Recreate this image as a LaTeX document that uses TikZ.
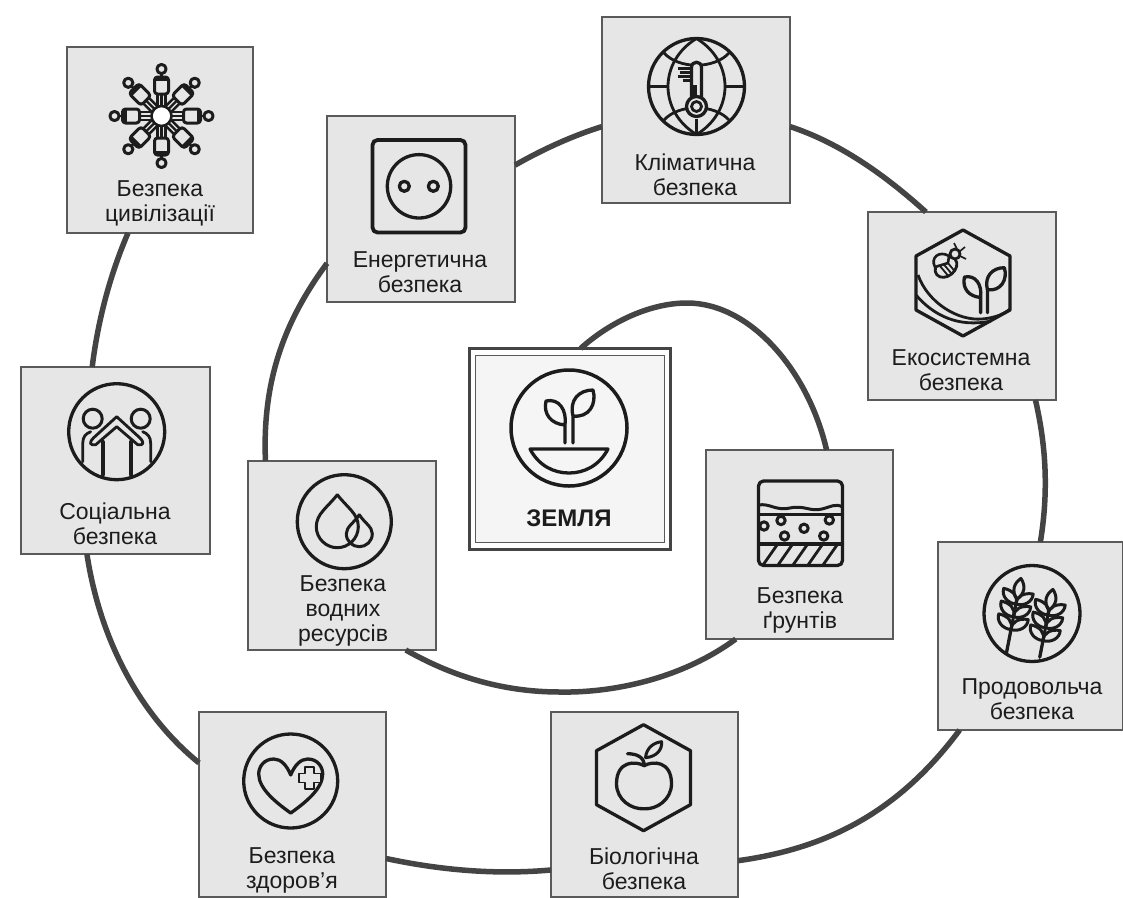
\documentclass[tikz,border=0pt]{standalone}
\usepackage{fontspec}
\setmainfont{Liberation Sans}
\definecolor{boxfill}{HTML}{E6E6E6}
\definecolor{boxline}{HTML}{5A5A5A}
\definecolor{ink}{HTML}{1C1C1C}
\definecolor{linkc}{HTML}{444444}
\tikzset{
  card/.style={draw=boxline,line width=1.6pt,fill=boxfill,inner sep=0pt,outer sep=0pt,minimum width=#1,minimum height=188pt},
  card/.default=188pt,
  lab/.style={align=center,text=ink,inner sep=0pt,font=\fontsize{23}{25}\selectfont},
  ic/.style={draw=ink,line width=3.3pt,line join=round,line cap=round},
  thin ic/.style={draw=ink,line width=2.4pt,line join=round},
  link/.style={draw=linkc,line width=5.5pt},
}
\newcommand{\sproutpic}{%
  \draw[ic] (-4,15) -- (-4,-3) .. controls (-18,-4) and (-26,-14) .. (-23,-27) .. controls (-10,-30) and (-2,-18) .. (-4,-3);
  \draw[ic] (4,15) -- (4,-12) .. controls (0,-28) and (10,-38) .. (24,-38) .. controls (28,-24) and (20,-10) .. (4,-12);
}
\newcommand{\hexpic}{\draw[ic] (0,-53) -- (47,-27) -- (47,27) -- (0,53) -- (-47,27) -- (-47,-27) -- cycle;}
\newcommand{\grain}{\draw[thin ic,line width=3pt] (0,0) .. controls (-1,-8) and (6,-13) .. (15,-13) .. controls (16,-5) and (8,1) .. (0,0);}
\newcommand{\wheatpic}[1]{%
  \draw[ic] (0,0) -- (0,#1);
  \foreach \g in {0,-13,-26}{
    \begin{scope}[shift={(0,\g)}]\grain\begin{scope}[xscale=-1]\grain\end{scope}\end{scope}
  }
  \draw[thin ic,line width=3pt] (0,-31) .. controls (-7,-38) and (-6,-46) .. (0,-52) .. controls (6,-46) and (7,-38) .. (0,-31);
}
\begin{document}
\begin{tikzpicture}[x=1pt,y=-1pt]
\useasboundingbox (0,0) rectangle (1123,897);
\fill[white] (0,0) rectangle (1123,897);
% cards
\node[card=186pt,minimum height=186pt] (civ) at (160,140) {};
\node[card=188pt,minimum height=186pt] (clim) at (696,110) {};
\node[card=188pt] (eco) at (962,306) {};
\node[card=185pt] (prod) at (1030.5,636) {};
\node[card=189pt,minimum height=187pt] (soc) at (115.5,460.5) {};
\node[card=187pt,minimum height=189pt] (ground) at (799.5,544.5) {};
\node[card=188pt,minimum height=189pt] (water) at (342,555.5) {};
\node[card=187pt,minimum height=185pt] (health) at (292.5,804.5) {};
\node[card=187pt,minimum height=185pt] (bio) at (644.5,804.5) {};
\node[card=188pt,minimum height=186pt] (energy) at (421,209) {};
\node[draw=linkc,line width=3pt,fill=white,inner sep=0pt,outer sep=0pt,minimum width=201pt,minimum height=201pt] (earth) at (570,449) {};
\node[draw=boxline,line width=1.6pt,fill=black!4,inner sep=0pt,minimum width=189pt,minimum height=187pt] (earthin) at (570,449) {};
% connectors
\draw[link] (earth.84.3) .. controls (610,322) and (650,303) .. (687,303) .. controls (750,303) and (808,370) .. (ground.74.9);
\draw[link] (ground.-124.3) .. controls (680,680) and (610,693) .. (560,692) .. controls (500,692) and (450,675) .. (water.-56.3);
\draw[link] (water.129.2) .. controls (262,380) and (285,320) .. (energy.210.8);
\draw[link] (energy.25.1) .. controls (545,148) and (575,135) .. (clim.190.3);
\draw[link] (clim.-10.3) .. controls (840,143) and (885,175) .. (eco.111.5);
\draw[link] (eco.-52.2) .. controls (1047,450) and (1048,495) .. (prod.84.2);
\draw[link] (prod.233.9) .. controls (900,810) and (830,848) .. (bio.-31.6);
\draw[link] (bio.215.8) .. controls (495,875) and (440,870) .. (health.-30.7);
\draw[link] (health.156.6) .. controls (140,715) and (100,640) .. (soc.253.6);
\draw[link] (soc.104.1) .. controls (98,320) and (110,275) .. (civ.251);
% labels
\node[lab] (lciv) at (160,203) {Безпека\\цивілізації};
\node[lab] (lclim) at (695,175) {Кліматична\\безпека};
\node[lab] (leco) at (961,370) {Екосистемна\\безпека};
\node[lab] (lprod) at (1032,699) {Продовольча\\безпека};
\node[lab] (lsoc) at (115,524) {Соціальна\\безпека};
\node[lab] (lground) at (800,610) {Безпека\\ґрунтів};
\node[lab] (lwater) at (343,611) {Безпека\\водних\\ресурсів};
\node[lab] (lhealth) at (292,870) {Безпека\\здоров’я};
\node[lab] (lbio) at (644,869) {Біологічна\\безпека};
\node[lab] (lenergy) at (420,272) {Енергетична\\безпека};
\node[text=ink,inner sep=0pt,font=\fontsize{24}{25}\selectfont\bfseries] (learth) at (569,518) {ЗЕМЛЯ};
% earth icon
\begin{scope}[shift={(569,428)}]
  \draw[ic,line width=3.5pt] (0,0) circle[radius=58];
  \sproutpic
  \draw[ic] (-39,21) -- (39,21) .. controls (30,38) and (15,45) .. (0,45) .. controls (-15,45) and (-30,38) .. (-39,21) -- cycle;
\end{scope}
% civilisation icon
\begin{scope}[shift={(161.5,116)}]
  \foreach \a in {0,45,...,315}{
    \begin{scope}[rotate=\a]
      \draw[thin ic] (-4,-9) -- (-4,-26) (0,-10) -- (0,-26) (4,-9) -- (4,-26);
      \draw[ic,line width=3pt,fill=boxfill,rounded corners=3pt] (-7,-22) rectangle (7,-39);
      \fill[ink] (-7,-35) rectangle (7,-39);
      \draw[thin ic] (0,-39) -- (0,-42);
      \draw[ic,line width=3pt,fill=boxfill] (0,-47) circle[radius=4.6];
    \end{scope}
  }
  \draw[ic,line width=2.6pt,fill=white] (0,0) circle[radius=10];
\end{scope}
% climate icon
\begin{scope}[shift={(696.5,86.5)}]
  \draw[ic] (0,0) circle[radius=48];
  \draw[thin ic,line width=2.8pt] (0,-48) .. controls (-38,-25) and (-38,25) .. (0,48) .. controls (38,25) and (38,-25) .. (0,-48);
  \draw[thin ic,line width=2.8pt] (-33,-34) .. controls (-18,-17) and (18,-17) .. (33,-34);
  \draw[thin ic,line width=2.8pt] (-33,34) .. controls (-18,17) and (18,17) .. (33,34);
  \draw[thin ic,line width=2.8pt] (-48,0) -- (-29,0) (29,0) -- (48,0) (0,32) -- (0,48);
  \draw[ic,fill=boxfill] (-5,12) -- (-5,-19) .. controls (-5,-26) and (5,-26) .. (5,-19) -- (5,12);
  \fill[ink] (-5,-2) rectangle (0,14);
  \draw[ic,fill=boxfill] (0,20) circle[radius=10];
  \draw[thin ic,line width=2.8pt] (0,20) circle[radius=5];
  \draw[ink,line width=2.8pt] (-19,-18) -- (-5,-18) (-17,-14) -- (-5,-14) (-19,-10) -- (-5,-10) (-14,-6) -- (-5,-6);
\end{scope}
% ecosystem icon
\begin{scope}[shift={(963,283)}]
  \hexpic
  \draw[thin ic,line width=2.8pt] (-45,-8) .. controls (-35,20) and (-5,38) .. (19,36) .. controls (30,35) and (40,32) .. (47,26);
  \draw[thin ic,line width=2.8pt] (-47,12) .. controls (-30,32) and (-5,45) .. (28,38);
  \begin{scope}[shift={(21,17)},scale=.85]\sproutpic\end{scope}
  % bee
  \begin{scope}[shift={(-17,-16)},rotate=40]
    \draw[thin ic,line width=2.8pt] (0,0) ellipse[x radius=12,y radius=9];
    \draw[thin ic,line width=1.8pt] (-4,-8) -- (-4,8) (0,-9) -- (0,9) (4,-8) -- (4,8);
  \end{scope}
  \draw[thin ic,line width=2.8pt,fill=boxfill] (-8,-29) circle[radius=5];
  \draw[thin ic,line width=2.6pt,fill=boxfill] (-28,-16) .. controls (-33,-25) and (-24,-33) .. (-14,-27) -- (-15,-20) -- cycle;
  \draw[thin ic,line width=1.6pt] (-6,-34) -- (-9,-40) (-4,-31) -- (2,-36) (-3,-27) -- (3,-24);
\end{scope}
% food icon
\begin{scope}[shift={(1032,613.5)}]
  \draw[ic] (0,0) circle[radius=48];
  \begin{scope}[shift={(-21,16)},rotate=-11]
    \wheatpic{24}
    \draw[ink,line width=3pt] (0,0) -- (0,-30);
  \end{scope}
  \begin{scope}[shift={(11,27)},rotate=-11]
    \wheatpic{17}
    \draw[ink,line width=3pt] (0,0) -- (0,-30);
  \end{scope}
\end{scope}
% social icon
\begin{scope}[shift={(116.7,431.7)}]
  \draw[ic] (0,0) circle[radius=48];
  \draw[ic,line width=3pt] (-24,-13) circle[radius=9.5] (24,-13) circle[radius=9.5];
  \draw[ic,line width=3.6pt] (-14,10) -- (-14,43) (14,10) -- (14,43);
  \draw[ic,line width=2.8pt] (-34,30) -- (-34,12) .. controls (-34,5) and (-31,2) .. (-26,0);
  \draw[ic,line width=2.8pt] (34,30) -- (34,12) .. controls (34,5) and (31,2) .. (26,0);
  \draw[ic,line width=2.8pt,fill=boxfill] (-23,6) -- (0,-15) -- (23,6) .. controls (28,11) and (27,14) .. (21,13) -- (0,-5) -- (-21,13) .. controls (-27,14) and (-28,11) .. (-23,6) -- cycle;
\end{scope}
% soil icon
\begin{scope}
  \draw[ic,rounded corners=5pt] (758.5,481) rectangle (842.5,565.5);
  \draw[ic,line width=3pt] (758.5,505) .. controls (770,503) and (775,511) .. (790,508) .. controls (805,505) and (810,512) .. (822,509) .. controls (830,507) and (836,503) .. (842.5,507);
  \draw[ic] (758.5,514.5) -- (842.5,514.5) (758.5,544) -- (842.5,544);
  \draw[ic,line width=3pt] (764,526) circle[radius=4.2] (781,520.5) circle[radius=4.2] (784.5,536) circle[radius=4.2] (804,528.3) circle[radius=4.2] (829.3,520) circle[radius=4.2] (823.7,536) circle[radius=4.2];
  \draw[ic,line width=2.8pt] (763,565) -- (777,545) (778,565) -- (792,545) (793,565) -- (807,545) (808,565) -- (822,545) (823,565) -- (837,545);
\end{scope}
% water icon
\begin{scope}[shift={(344.3,521.7)}]
  \draw[ic] (0,0) circle[radius=47];
  \draw[ic,line width=3pt] (-7,-27) .. controls (3,-14) and (14,-8) .. (14,5) .. controls (14,17) and (4,26) .. (-7,26) .. controls (-18,26) and (-28,17) .. (-28,5) .. controls (-28,-8) and (-17,-14) .. (-7,-27);
  \draw[ic,line width=3pt] (15,-7) .. controls (20,1) and (28,5) .. (28,12) .. controls (28,19.5) and (22,25) .. (15,25) .. controls (8,25) and (2,19.5) .. (2,12) .. controls (2,5) and (10,1) .. (15,-7);
\end{scope}
% health icon
\begin{scope}[shift={(290.7,781)}]
  \draw[ic] (0,0) circle[radius=47];
  \draw[ic] (0,-6) .. controls (-4,-16) and (-10,-22) .. (-17,-22) .. controls (-27,-22) and (-32,-14) .. (-32,-7) .. controls (-32,8) and (-14,22) .. (0,32) .. controls (14,22) and (32,8) .. (32,-7) .. controls (32,-14) and (27,-22) .. (17,-22) .. controls (10,-22) and (4,-16) .. (0,-6);
  \draw[thin ic,line width=1.8pt,fill=boxfill] (14.5,-14) -- (23.5,-14) -- (23.5,-7.5) -- (30,-7.5) -- (30,1.5) -- (23.5,1.5) -- (23.5,8) -- (14.5,8) -- (14.5,1.5) -- (8,1.5) -- (8,-7.5) -- (14.5,-7.5) -- cycle;
\end{scope}
% bio icon
\begin{scope}[shift={(643.5,777.7)}]
  \hexpic
  \draw[ic] (0.7,-12) .. controls (-8,-17) and (-27,-17) .. (-27,6) .. controls (-27,22) and (-12,32) .. (0.7,31) .. controls (13,32) and (28,22) .. (28,6) .. controls (28,-17) and (9,-17) .. (0.7,-12);
  \draw[ic] (0.7,-12) .. controls (1,-20) and (-6,-24) .. (-16,-24);
  \draw[ic,line width=3pt] (2,-20) .. controls (3,-30) and (10,-35) .. (18,-36) .. controls (19,-28) and (13,-21) .. (2,-20);
\end{scope}
% energy icon
\begin{scope}
  \draw[ic,rounded corners=5pt,line width=3.8pt] (372.5,140) rectangle (465.5,232.5);
  \draw[ic] (419,186.3) circle[radius=31.7];
  \draw[ic] (404.3,186.3) circle[radius=5] (433.3,186.3) circle[radius=5];
\end{scope}
\end{tikzpicture}
\end{document}
